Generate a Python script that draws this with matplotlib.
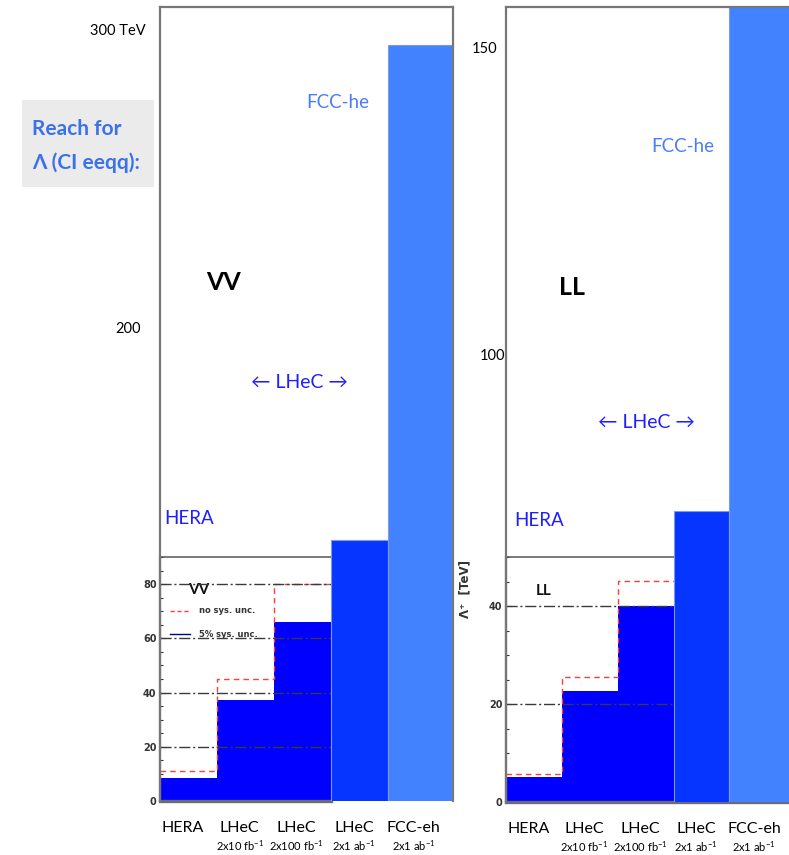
import matplotlib
matplotlib.use("Agg")
import matplotlib.pyplot as plt
from matplotlib import font_manager
from matplotlib.patches import Rectangle
from matplotlib.ticker import MultipleLocator

# ---------------------------------------------------------------- data
columns = ["HERA", "LHeC", "LHeC", "LHeC", "FCC-eh"]
lumis = ["", "2x10 fb$^{-1}$", "2x100 fb$^{-1}$", "2x1 ab$^{-1}$", "2x1 ab$^{-1}$"]

# VV coupling: inset bins (HERA, LHeC 2x10, LHeC 2x100) in TeV
vv_sys5 = [8.6, 37.1, 66.1]      # 5% sys. unc.
vv_nosys = [11.2, 44.9, 80.2]    # no sys. unc.
# VV: LHeC 2x1 ab^-1 and FCC-eh reach on the large scale (TeV)
vv_reach = [128.5, 294.6]
vv_ticks = [200, 300]
vv_ticklabels = ["200", "300 TeV"]

# LL coupling
ll_sys5 = [5.1, 22.6, 39.9]
ll_nosys = [5.8, 25.6, 45.1]
ll_reach = [74.6, 157.0]
ll_ticks = [100, 150]
ll_ticklabels = ["100", "150"]

# ---------------------------------------------------------------- style
def pick_font(*names):
    avail = {f.name for f in font_manager.fontManager.ttflist}
    for n in names:
        if n in avail:
            return n
    return "DejaVu Sans"

FONT = pick_font("Liberation Sans Narrow", "Lato", "Open Sans", "Liberation Sans")
FAM = [FONT, "DejaVu Sans"]
plt.rcParams["font.family"] = FAM
plt.rcParams["mathtext.fontset"] = "custom"
plt.rcParams["mathtext.rm"] = FONT
plt.rcParams["mathtext.default"] = "regular"

W, H = 789, 855
fig = plt.figure(figsize=(W / 100, H / 100), dpi=100)
fig.patch.set_facecolor("white")


def fx(px):
    return px / W


def fy(py):
    return 1 - py / H


FRAME = "#777777"
INSET_BLUE = "#0000FF"
LHEC_BLUE = "#0535FF"
FCC_BLUE = "#4281FF"
TEXT_BLUE = "#1E1EFF"
FCC_TEXT = "#4A7DF5"


def draw_panel(x0, x1, ytop, ybot, yins, widths, reach, uticks, ulabels,
               upads, ulim, sys5, nosys, itop, grid_vals, full_bottom,
               name, name_xy, ylabel=None):
    edges = [0.0]
    for w in widths:
        edges.append(edges[-1] + w)
    xmax = edges[-1] + 0.02

    # inset with the detailed reach
    ins = fig.add_axes([fx(x0), fy(ybot), fx(x1) - fx(x0), fy(yins) - fy(ybot)])
    ins.set_zorder(2)
    ins.set_xlim(0, xmax)
    ins.set_ylim(0, itop)
    ins.bar(edges[:3], sys5, width=widths[:3], align="edge", color=INSET_BLUE,
            linewidth=0, zorder=2)
    ins.stairs(nosys, edges[:4], baseline=None, color="#FF3B3B",
               linestyle=(0, (4, 3)), linewidth=1.0, zorder=3)
    ins.hlines(grid_vals, 0, edges[3], colors="#3a3a3a",
               linestyles=[(0, (8, 2, 1.5, 2))], linewidth=1.0, zorder=4)
    ins.yaxis.set_major_locator(MultipleLocator(20))
    ins.yaxis.set_minor_locator(MultipleLocator(5))
    ins.set_xticks(edges[1:4])
    ins.tick_params(axis="x", direction="in", length=3, width=0.8,
                    labelbottom=False, color="#333333")
    ins.tick_params(axis="y", which="major", direction="in", length=4,
                    width=0.8, labelsize=7, labelcolor="#333333",
                    color="#333333", pad=2.5)
    ins.tick_params(axis="y", which="minor", direction="in", length=2.5,
                    width=0.8, color="#333333")
    for t in ins.get_yticklabels():
        t.set_fontweight("bold")
        t.set_family("DejaVu Sans")
    ins.spines["right"].set_visible(False)
    ins.spines["left"].set_color(FRAME)
    ins.spines["left"].set_linewidth(1.6)
    ins.spines["top"].set_color("#555555")
    ins.spines["top"].set_linewidth(1.1)
    ins.spines["bottom"].set_color("#6b6b73")
    ins.spines["bottom"].set_linewidth(2.4)
    if not full_bottom:
        ins.spines["bottom"].set_bounds(0, edges[3])
    ins.text(name_xy[0], name_xy[1], name, transform=ins.transAxes,
             fontsize=11, fontweight="bold",
             ha="center", va="center", color="#111111")
    if ylabel:
        ins.set_ylabel(ylabel, fontsize=8.5, fontweight="bold",
                       family="DejaVu Sans", color="#333333")
        ins.yaxis.set_label_coords(-0.12, 0.87)

    # bottom category labels
    for i, (c, l) in enumerate(zip(columns, lumis)):
        xc = edges[i] + 0.4 * widths[i]
        ins.annotate(c, xy=(xc, 0), xycoords=("data", "axes fraction"),
                     xytext=(0, -27), textcoords="offset pixels",
                     ha="center", va="center", fontsize=11.5)
        if l:
            ins.annotate(l, xy=(xc, 0), xycoords=("data", "axes fraction"),
                         xytext=(0, -45), textcoords="offset pixels",
                         ha="center", va="center", fontsize=8)

    # outer frame with the large-scale reach
    ax = fig.add_axes([fx(x0), fy(ybot), fx(x1) - fx(x0), fy(ytop) - fy(ybot)])
    ax.set_zorder(3)
    ax.set_facecolor("none")
    ax.set_xlim(0, xmax)
    ax.set_ylim(*ulim)
    ax.bar(edges[3:5], reach, width=widths[3:5], align="edge",
           color=[LHEC_BLUE, FCC_BLUE], edgecolor="#7f9be0", linewidth=0.8)
    ax.set_xticks([])
    ax.set_yticks(uticks)
    ax.set_yticklabels(ulabels, fontsize=10.5)
    ax.tick_params(axis="y", length=0)
    for tk, p in zip(ax.yaxis.get_major_ticks(), upads):
        tk.set_pad(p)
    ax.spines["bottom"].set_visible(False)
    for s in ("left", "top", "right"):
        ax.spines[s].set_color(FRAME)
        ax.spines[s].set_linewidth(1.6)
    return ax, ins


# VV panel
ax_l, ins_l = draw_panel(160, 453, 7, 801, 557,
                         [1, 1, 1, 1, 1.12], vv_reach, vv_ticks, vv_ticklabels,
                         [13.5, 10], (40.94, 307.4), vv_sys5, vv_nosys, 90,
                         [20, 40, 60, 80], False, "VV", (0.133, 0.865))

# legend inside the VV inset
ins_l.plot([0.034, 0.102], [0.779, 0.779], transform=ins_l.transAxes,
           color="#FF3B3B", linestyle=(0, (3, 2)), linewidth=1.0, zorder=5)
ins_l.plot([0.034, 0.102], [0.684, 0.684], transform=ins_l.transAxes,
           color="#000090", linewidth=1.0, zorder=5)
ins_l.text(0.133, 0.779, "no sys. unc.", transform=ins_l.transAxes,
           fontsize=6, fontweight="bold", color="#333333", va="center",
           family="DejaVu Sans", zorder=5)
ins_l.text(0.133, 0.684, "5% sys. unc.", transform=ins_l.transAxes,
           fontsize=6, fontweight="bold", color="#333333", va="center",
           family="DejaVu Sans", zorder=5)

# LL panel
ax_r, ins_r = draw_panel(506, 792, 7, 802, 557,
                         [1, 1, 1, 1, 1.1], ll_reach, ll_ticks, ll_ticklabels,
                         [0.7, 6.5], (27.28, 156.6), ll_sys5, ll_nosys, 50,
                         [20, 40], True, "LL", (0.13, 0.861),
                         ylabel="Λ⁺  [TeV]")

# annotations on the large scale
def label(px, py, s, **kw):
    fig.text(fx(px), fy(py), s, ha="center", va="center", **kw)


label(338, 103, "FCC-he", fontsize=13.5, color=FCC_TEXT)
label(683, 146, "FCC-he", fontsize=13.5, color=FCC_TEXT)
label(224, 283, "VV", fontsize=18, fontweight="bold", color="black")
label(572, 287, "LL", fontsize=18, fontweight="bold", color="black")
label(299, 382, "← LHeC →", fontsize=14, color=TEXT_BLUE)
label(646, 422, "← LHeC →", fontsize=14, color=TEXT_BLUE)
label(189, 519, "HERA", fontsize=13.5, color=TEXT_BLUE)
label(539, 520, "HERA", fontsize=13.5, color=TEXT_BLUE)

# title box
fig.patches.append(Rectangle((fx(22), fy(187)), fx(154) - fx(22),
                             fy(100) - fy(187), transform=fig.transFigure,
                             facecolor="#EBEBEB", edgecolor="none", zorder=0))
fig.text(fx(32), fy(129), "Reach for", fontsize=15, fontweight="bold",
         color="#3B72E8", ha="left", va="center")
fig.text(fx(32), fy(163), "Λ (CI eeqq):", fontsize=15, fontweight="bold",
         color="#3B72E8", ha="left", va="center")

fig.savefig("out.png", dpi=100, facecolor="white")
